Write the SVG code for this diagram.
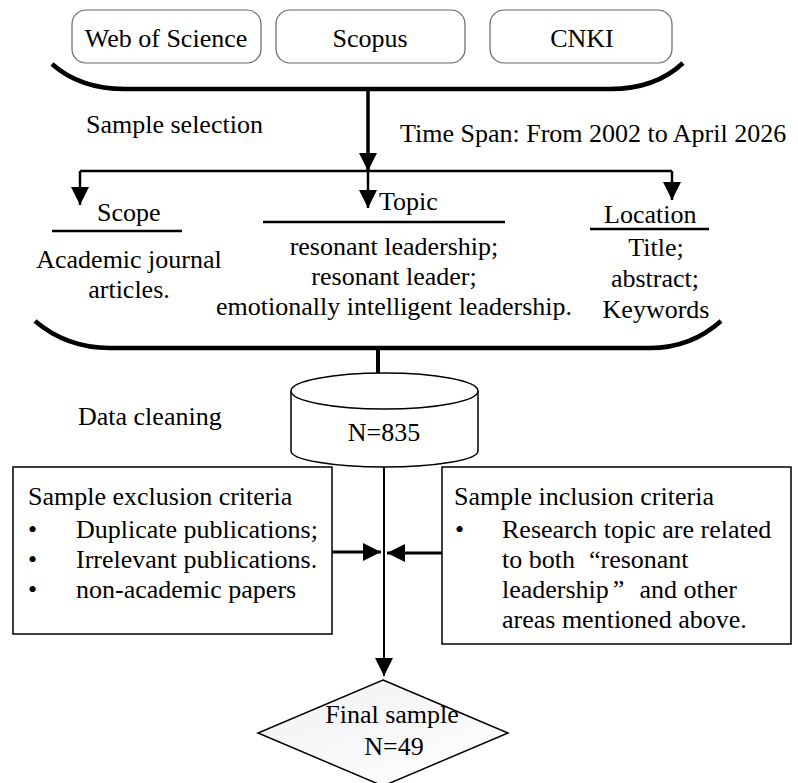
<svg xmlns="http://www.w3.org/2000/svg" width="798" height="783" viewBox="0 0 798 783" font-family="'Liberation Serif','Times New Roman',serif">
<style>
text{font-family:"Liberation Serif","Times New Roman",serif;font-size:26px;fill:#000}
.c{text-anchor:middle}
.db{fill:#fff;stroke:#666;stroke-width:1.2}
.brk{fill:none;stroke:#000;stroke-width:4.5}
.ul{stroke:#000;stroke-width:2.5}
.ln{fill:none;stroke:#000}
.box{fill:#fff;stroke:#000;stroke-width:1.5}
</style>
<defs>
<marker id="ah" viewBox="0 0 18 18" markerWidth="18" markerHeight="18" refX="18" refY="9" orient="auto" markerUnits="userSpaceOnUse">
<path d="M0,0 L18,9 L0,18 z" fill="#000"/>
</marker>
<linearGradient id="dg" x1="0" y1="0" x2="1" y2="1">
<stop offset="0" stop-color="#f0f1f4"/>
<stop offset="1" stop-color="#ffffff"/>
</linearGradient>
</defs>

<g id="wos"><rect class="db" x="72" y="10" width="189" height="53" rx="14"/><text class="c" x="166" y="47">Web of Science</text></g>
<g id="scopus"><rect class="db" x="276" y="10" width="189" height="53" rx="14"/><text class="c" x="370" y="47">Scopus</text></g>
<g id="cnki"><rect class="db" x="490" y="10" width="182" height="53" rx="14"/><text class="c" x="582" y="47">CNKI</text></g>

<g id="bracket-top"><path class="brk" d="M52,64 C70,80 95,89 125,89 L610,89 C640,89 665,80 683,63"/></g>
<g id="label-selection"><text x="86" y="133">Sample selection</text></g>
<g id="label-timespan"><text x="400" y="142">Time Span: From 2002 to April 2026</text></g>

<g id="scope">
<text x="97" y="221">Scope</text>
<line class="ul" x1="52" y1="231" x2="182" y2="231"/>
<text class="c" x="129" y="268">Academic journal</text>
<text class="c" x="129" y="298">articles.</text>
</g>
<g id="topic">
<text x="379" y="210">Topic</text>
<line class="ul" x1="263" y1="222" x2="505" y2="222"/>
<text class="c" x="394" y="255">resonant leadership;</text>
<text class="c" x="394" y="285">resonant leader;</text>
<text class="c" x="394" y="315">emotionally intelligent leadership.</text>
</g>
<g id="location">
<text x="604" y="223">Location</text>
<line class="ul" x1="590" y1="229" x2="709" y2="229"/>
<text class="c" x="656" y="256">Title;</text>
<text class="c" x="655" y="287">abstract;</text>
<text class="c" x="656" y="318">Keywords</text>
</g>

<g id="bracket-bottom"><path class="brk" d="M35,321 C55,338 80,348 110,348 L650,348 C680,348 702,338 721,321"/></g>

<g id="label-cleaning"><text x="78" y="425">Data cleaning</text></g>

<g id="db835">
<path class="box" d="M291,391 L291,451 A93.5,16 0 0 0 478,451 L478,391"/>
<ellipse class="box" cx="384.5" cy="391" rx="93.5" ry="18"/>
<text class="c" x="384" y="441">N=835</text>
</g>

<g id="exclusion">
<rect class="box" x="13" y="467" width="319" height="167"/>
<text x="28" y="505">Sample exclusion criteria</text>
<text x="28" y="538">•</text><text x="76" y="538">Duplicate publications;</text>
<text x="28" y="568">•</text><text x="76" y="568">Irrelevant publications.</text>
<text x="28" y="598">•</text><text x="76" y="598">non-academic papers</text>
</g>

<g id="inclusion">
<rect class="box" x="442" y="467" width="349" height="177"/>
<text x="454" y="505">Sample inclusion criteria</text>
<text x="455" y="538">•</text><text x="502" y="538">Research topic are related</text>
<text x="502" y="568">to both<tspan dx="14">“</tspan>resonant</text>
<text x="502" y="598">leadership<tspan dx="4">”</tspan><tspan dx="15">and other</tspan></text>
<text x="502" y="628">areas mentioned above.</text>
</g>

<g id="final">
<path d="M383,680 L508,733 L383,786 L258,733 z" fill="url(#dg)" stroke="#000" stroke-width="1.5"/>
<text class="c" x="392" y="723">Final sample</text>
<text class="c" x="394" y="755">N=49</text>
</g>

<g id="connectors">
<line class="ln" stroke-width="3.5" x1="368" y1="89" x2="368" y2="171" marker-end="url(#ah)"/>
<line class="ln" stroke-width="2.5" x1="80" y1="171" x2="672" y2="171"/>
<line class="ln" stroke-width="2.5" x1="80" y1="171" x2="80" y2="205" marker-end="url(#ah)"/>
<line class="ln" stroke-width="2.5" x1="368" y1="171" x2="368" y2="208" marker-end="url(#ah)"/>
<line class="ln" stroke-width="2.5" x1="672" y1="171" x2="672" y2="200" marker-end="url(#ah)"/>
<line class="ln" stroke-width="4" x1="378" y1="348" x2="378" y2="373"/>
<line class="ln" stroke-width="2" x1="384" y1="467" x2="384" y2="676" marker-end="url(#ah)"/>
<line class="ln" stroke-width="3" x1="332" y1="552" x2="381" y2="552" marker-end="url(#ah)"/>
<line class="ln" stroke-width="3" x1="442" y1="553" x2="387" y2="553" marker-end="url(#ah)"/>
</g>
</svg>
